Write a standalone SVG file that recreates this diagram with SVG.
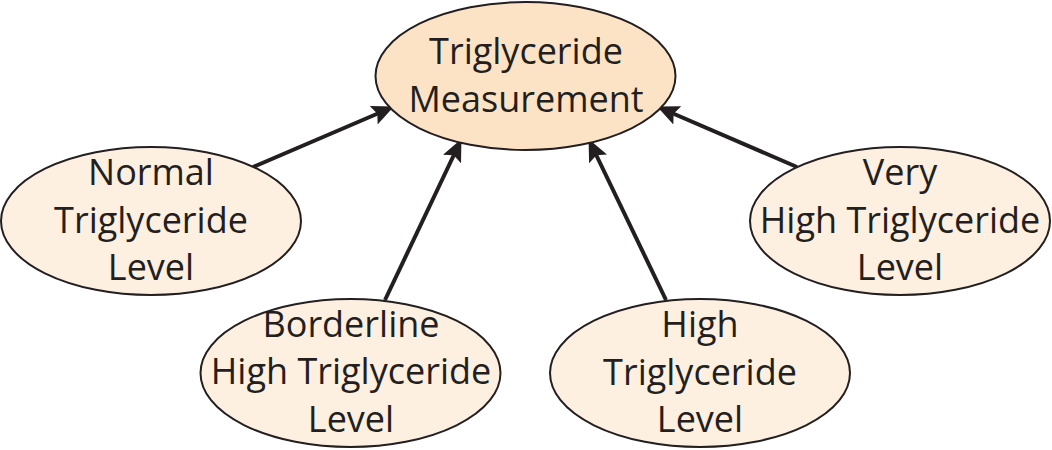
<svg xmlns="http://www.w3.org/2000/svg" width="1052" height="450" viewBox="0 0 1052 450">
<style>
.node ellipse{fill:#fef0e1;stroke:#231f20;stroke-width:2}
#measurement ellipse{fill:#fde3c6}
text{font-family:"Open Sans","Noto Sans",sans-serif;font-size:36px;fill:#231f20;text-anchor:middle}
.conn line{stroke:#231f20;stroke-width:4;marker-end:url(#arrow)}
</style>
<defs>
<marker id="arrow" markerUnits="userSpaceOnUse" viewBox="0 0 22 20" refX="21" refY="10" markerWidth="22" markerHeight="20" orient="auto">
<path d="M0,0 L22,10 L0,20 L4,10 Z" fill="#231f20"/>
</marker>
</defs>
<g class="conn" id="connectors">
<line x1="253" y1="167" x2="393" y2="107"/>
<line x1="385" y1="300" x2="461" y2="140"/>
<line x1="666" y1="300" x2="589" y2="140"/>
<line x1="797" y1="167" x2="658" y2="107"/>
</g>
<g class="node" id="measurement">
<ellipse cx="525.5" cy="76" rx="150" ry="74"/>
<text x="526" y="64">Triglyceride</text>
<text x="526" y="112">Measurement</text>
</g>
<g class="node" id="normal">
<ellipse cx="151" cy="221" rx="150" ry="74"/>
<text x="151" y="185">Normal</text>
<text x="151" y="233">Triglyceride</text>
<text x="151" y="280">Level</text>
</g>
<g class="node" id="borderline">
<ellipse cx="350.5" cy="373" rx="150" ry="74"/>
<text x="351" y="337">Borderline</text>
<text x="351" y="384">High Triglyceride</text>
<text x="351" y="432">Level</text>
</g>
<g class="node" id="high">
<ellipse cx="700" cy="373" rx="150" ry="74"/>
<text x="700" y="337">High</text>
<text x="700" y="385">Triglyceride</text>
<text x="700" y="432">Level</text>
</g>
<g class="node" id="veryhigh">
<ellipse cx="900" cy="221" rx="150" ry="74"/>
<text x="900" y="185">Very</text>
<text x="900" y="233">High Triglyceride</text>
<text x="900" y="280">Level</text>
</g>
</svg>
